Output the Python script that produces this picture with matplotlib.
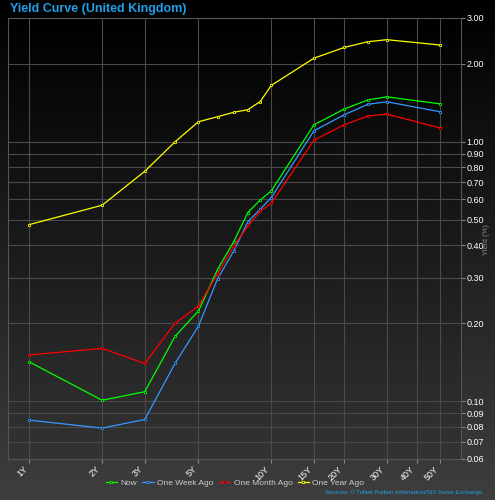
import numpy as np
import matplotlib
matplotlib.use('Agg')
import matplotlib.pyplot as plt
from matplotlib.ticker import FixedLocator, NullLocator, FixedFormatter

plt.rcParams['font.family'] = ['Liberation Sans', 'DejaVu Sans']

# maturities in years and tick labels
maturities = [1, 2, 3, 4, 5, 6, 7, 8, 9, 10, 15, 20, 25, 30, 50]
x_ticks = [1, 2, 3, 5, 10, 15, 20, 30, 40, 50]
x_tick_labels = ['1Y', '2Y', '3Y', '5Y', '10Y', '15Y', '20Y', '30Y', '40Y', '50Y']
y_ticks = [3.0, 2.0, 1.0, 0.9, 0.8, 0.7, 0.6, 0.5, 0.4, 0.3, 0.2, 0.1, 0.09, 0.08, 0.07, 0.06]

# yields (%)
now = [0.142, 0.101, 0.109, 0.178, 0.223, 0.323, 0.413, 0.534, 0.597, 0.647,
       1.163, 1.337, 1.449, 1.491, 1.40]
week_ago = [0.0847, 0.0789, 0.0852, 0.140, 0.195, 0.297, 0.380, 0.492, 0.550, 0.610,
            1.103, 1.271, 1.394, 1.427, 1.305]
month_ago = [0.151, 0.160, 0.140, 0.200, 0.233, 0.311, 0.397, 0.474, 0.540, 0.580,
             1.015, 1.163, 1.257, 1.279, 1.13]
year_ago = [0.48, 0.57, 0.77, 1.00, 1.195, 1.25, 1.30, 1.33, 1.43, 1.65,
            2.10, 2.31, 2.43, 2.475, 2.36]

series = [
    ('Now', now, '#00ff00'),
    ('One Week Ago', week_ago, '#3399ff'),
    ('One Month Ago', month_ago, '#ff0000'),
    ('One Year Ago', year_ago, '#ffff00'),
]

fig = plt.figure(figsize=(4.95, 5.0), dpi=100)

# figure background gradient (black at top, grey at bottom)
bg = fig.add_axes([0, 0, 1, 1], zorder=-2)
grad = np.linspace(0, 1, 256).reshape(-1, 1)
bg.imshow(grad, aspect='auto', cmap=matplotlib.colors.LinearSegmentedColormap.from_list(
    'fbg', ['#000000', '#3e3e3e']), extent=[0, 1, 0, 1], origin='upper')
bg.set_axis_off()

pos = [8 / 495, 1 - 459 / 500, 453 / 495, 441 / 500]

# plot area gradient
pbg = fig.add_axes(pos, zorder=-1)
pbg.imshow(grad, aspect='auto', cmap=matplotlib.colors.LinearSegmentedColormap.from_list(
    'pbg', ['#000000', '#333333']), extent=[0, 1, 0, 1], origin='upper')
pbg.set_axis_off()

ax = fig.add_axes(pos)
ax.set_facecolor('none')
ax.set_xscale('log')
ax.set_yscale('log')

for name, vals, col in series:
    ax.plot(maturities, vals, color=col, lw=0.9, marker='s', markersize=1.8,
            markerfacecolor='black', markeredgecolor=col, markeredgewidth=0.6,
            label=name, zorder=3)

ax.set_xlim(0.8165, 60.8)
ax.set_ylim(0.06, 3.0)

ax.xaxis.set_major_locator(FixedLocator(x_ticks))
ax.xaxis.set_major_formatter(FixedFormatter(x_tick_labels))
ax.xaxis.set_minor_locator(NullLocator())
ax.yaxis.set_major_locator(FixedLocator(y_ticks))
ax.yaxis.set_major_formatter(FixedFormatter(['%.2f' % v for v in y_ticks]))
ax.yaxis.set_minor_locator(NullLocator())

ax.yaxis.tick_right()
ax.tick_params(axis='y', colors='#888888', labelcolor='white', labelsize=6.5,
               length=3, width=0.8, pad=1)
ax.tick_params(axis='x', colors='#888888', labelcolor='white', labelsize=6.5,
               length=3, width=0.8, pad=1)
for lbl in ax.get_xticklabels():
    lbl.set_rotation(45)
    lbl.set_ha('right')

ax.grid(True, color='#4a4a4a', lw=0.8)
ax.set_axisbelow(True)
for s in ax.spines.values():
    s.set_color('#555555')
    s.set_linewidth(0.8)

fig.text(487 / 495, 1 - 240 / 500, 'Yield (%)', color='#888888', fontsize=5.5,
         rotation=90, ha='center', va='center')

fig.text(10 / 495, 1 - 9 / 500, 'Yield Curve (United Kingdom)', color='#1e9fe6',
         fontsize=9, fontweight='bold', ha='left', va='center')

leg = fig.legend(loc='center', bbox_to_anchor=(235 / 495, 1 - 483 / 500), ncol=4,
                 frameon=False, fontsize=6, handlelength=1.4, handletextpad=0.4,
                 columnspacing=0.6, borderpad=0)
for t in leg.get_texts():
    t.set_color('#cccccc')

fig.text(482 / 495, 1 - 492 / 500,
         'Sources: \u00a9 Tullett Prebon Information/SIX Swiss Exchange',
         color='#1e9fe6', fontsize=4.3, ha='right', va='center')

fig.savefig('out.png', dpi=100)
